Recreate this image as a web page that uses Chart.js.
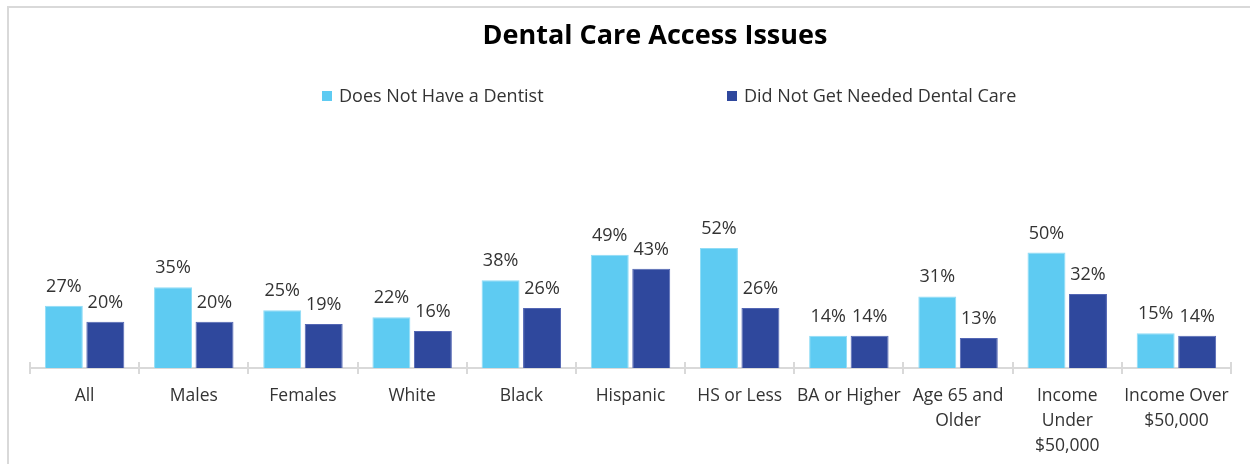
<!DOCTYPE html>
<html>
<head>
<meta charset="utf-8">
<title>Dental Care Access Issues</title>
<script src="https://cdn.jsdelivr.net/npm/chart.js@4"></script>
<style>
  html, body { margin: 0; padding: 0; background: #ffffff; overflow: hidden; }
  #wrap { position: relative; width: 1250px; height: 464px; }
  #frame {
    position: absolute; left: 7px; top: 6px; width: 1400px; height: 600px;
    border-left: 2px solid #d9d9d9; border-top: 2px solid #d9d9d9;
    pointer-events: none;
  }
  canvas { position: absolute; left: 0; top: 0; }
</style>
</head>
<body>
<div id="wrap">
  <div id="frame"></div>
  <canvas id="chart" width="1250" height="464"></canvas>
</div>
<script>
// Survey groups along the x axis
const categories = [
  'All', 'Males', 'Females', 'White', 'Black', 'Hispanic', 'HS or Less',
  'BA or Higher', ['Age 65 and', 'Older'], ['Income', 'Under', '$50,000'],
  ['Income Over', '$50,000']
];

// Percent of each group
const noDentist = [27, 35, 25, 22, 38, 49, 52, 14, 31, 50, 15];
const noDentalCare = [20, 20, 19, 16, 26, 43, 26, 14, 13, 32, 14];

const seriesNames = ['Does Not Have a Dentist', 'Did Not Get Needed Dental Care'];
const chartTitle = 'Dental Care Access Issues';

const FONT = '"Open Sans", "Noto Sans", "DejaVu Sans", sans-serif';
const TEXT = '#333333';
const AXIS = '#d9d9d9';

// Title and legend, placed above the plot area
const headerPlugin = {
  id: 'header',
  afterDraw(chart) {
    const ctx = chart.ctx;
    ctx.save();
    ctx.fillStyle = '#000000';
    ctx.font = 'bold 27px ' + FONT;
    ctx.textAlign = 'center';
    ctx.textBaseline = 'alphabetic';
    ctx.fillText(chartTitle, 655, 44);

    const starts = [322, 727];
    ctx.font = '18px ' + FONT;
    ctx.textAlign = 'left';
    ctx.textBaseline = 'middle';
    chart.data.datasets.forEach((ds, i) => {
      ctx.fillStyle = ds.backgroundColor;
      ctx.fillRect(starts[i], 91, 10, 10);
      ctx.fillStyle = TEXT;
      ctx.fillText(ds.label, starts[i] + 17, 96.5);
    });
    ctx.restore();
  }
};

// Short tick marks crossing the category axis at each category boundary
const tickPlugin = {
  id: 'crossTicks',
  afterDraw(chart) {
    const x = chart.scales.x;
    const n = chart.data.labels.length;
    const y = x.top;
    const ctx = chart.ctx;
    ctx.save();
    ctx.strokeStyle = AXIS;
    ctx.lineWidth = 2;
    for (let i = 0; i <= n; i++) {
      const px = Math.round(x.left + i * (x.right - x.left) / n);
      ctx.beginPath();
      ctx.moveTo(px, y - 6);
      ctx.lineTo(px, y + 6);
      ctx.stroke();
    }
    ctx.restore();
  }
};

// Percent labels above every bar
const valueLabelPlugin = {
  id: 'valueLabels',
  afterDatasetsDraw(chart) {
    const ctx = chart.ctx;
    ctx.save();
    ctx.font = '18px ' + FONT;
    ctx.fillStyle = TEXT;
    ctx.textAlign = 'center';
    ctx.textBaseline = 'alphabetic';
    chart.data.datasets.forEach((ds, di) => {
      chart.getDatasetMeta(di).data.forEach((bar, i) => {
        ctx.fillText(ds.data[i] + '%', bar.x, bar.y - 14);
      });
    });
    ctx.restore();
  }
};

new Chart(document.getElementById('chart'), {
  type: 'bar',
  data: {
    labels: categories,
    datasets: [
      {
        label: seriesNames[0],
        data: noDentist,
        backgroundColor: '#5ecbf2',
        borderColor: '#8fdcf6',
        borderWidth: 1,
        categoryPercentage: 0.76,
        barPercentage: 0.915
      },
      {
        label: seriesNames[1],
        data: noDentalCare,
        backgroundColor: '#2f489d',
        borderColor: '#5366b4',
        borderWidth: 1,
        categoryPercentage: 0.76,
        barPercentage: 0.915
      }
    ]
  },
  options: {
    responsive: false,
    animation: false,
    devicePixelRatio: 1,
    layout: { padding: { left: 30, right: 19, top: 137, bottom: 0 } },
    plugins: {
      legend: { display: false },
      title: { display: false },
      tooltip: { enabled: false }
    },
    scales: {
      x: {
        grid: { display: false },
        border: { display: true, color: AXIS, width: 2 },
        ticks: {
          autoSkip: false,
          maxRotation: 0,
          minRotation: 0,
          padding: 8,
          color: TEXT,
          font: { family: FONT, size: 17.5, lineHeight: 25 / 17.5 }
        },
        afterFit(scale) { scale.height = 96; }
      },
      y: {
        display: false,
        min: 0,
        max: 100,
        afterFit(scale) { scale.width = 0; }
      }
    }
  },
  plugins: [headerPlugin, tickPlugin, valueLabelPlugin]
});
</script>
</body>
</html>
